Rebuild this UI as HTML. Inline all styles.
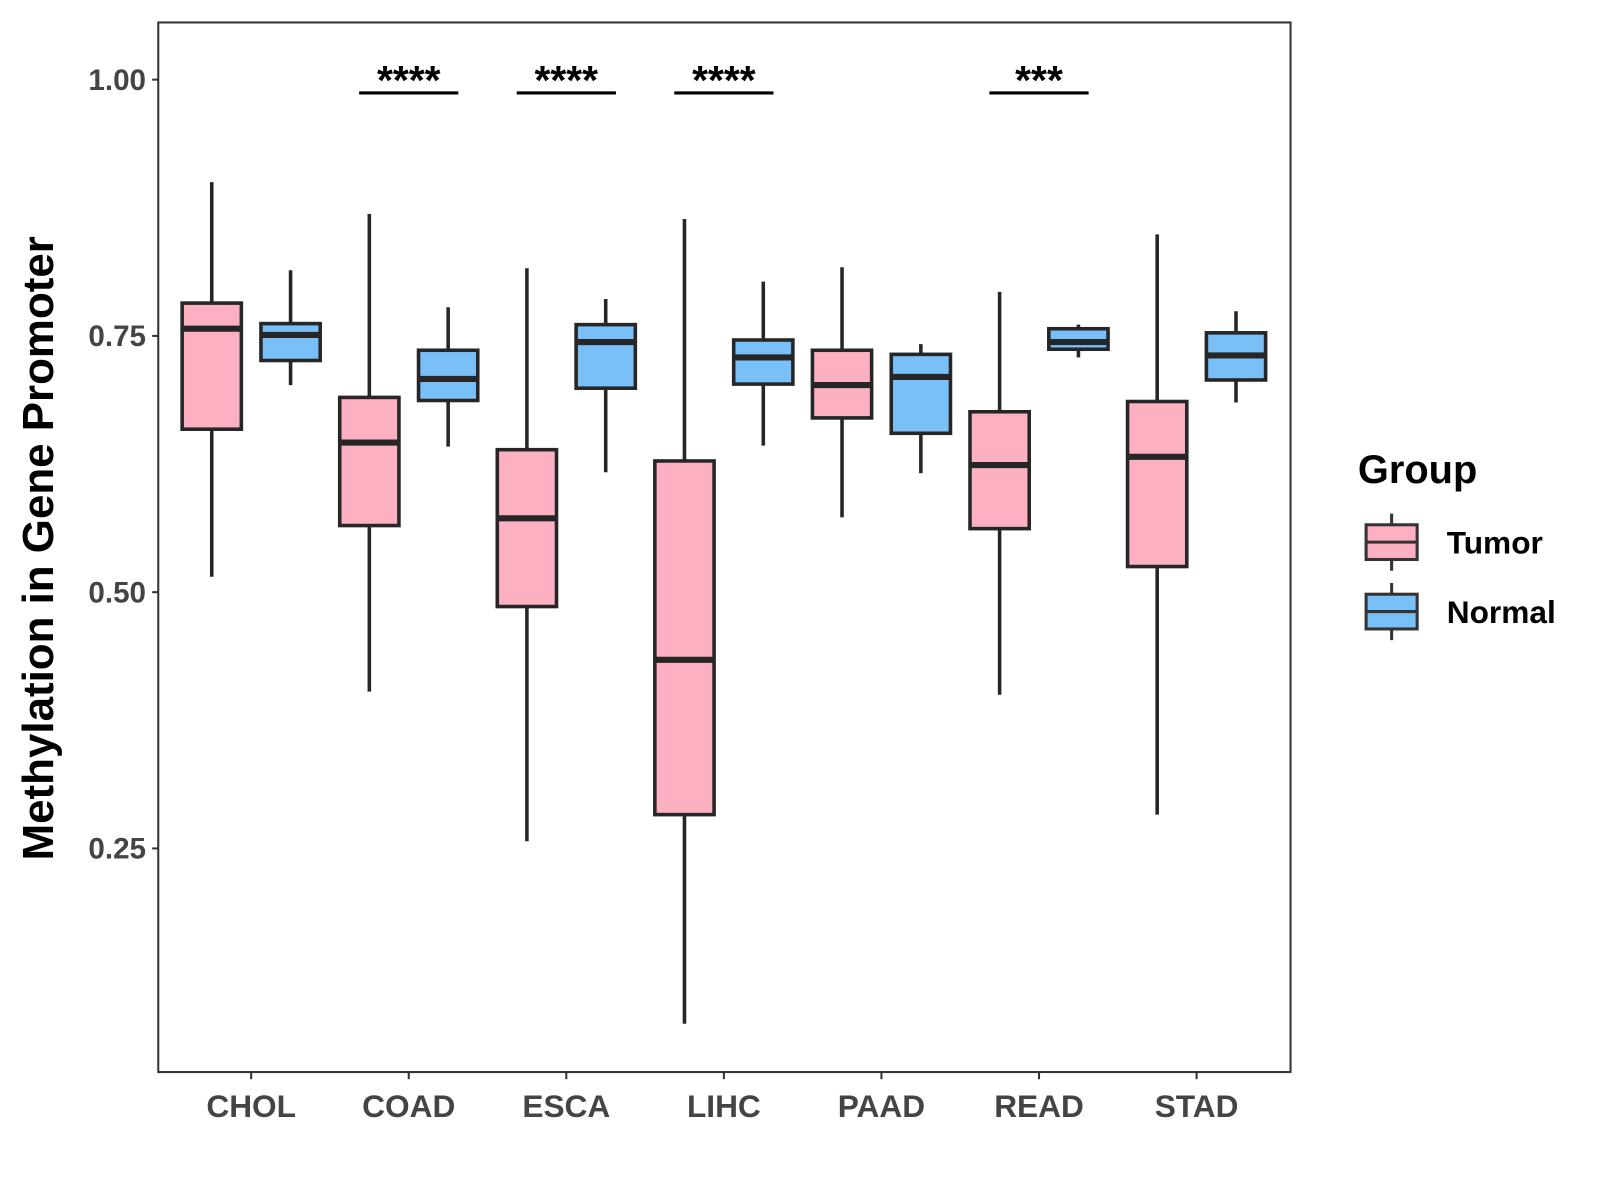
<!DOCTYPE html>
<html><head><meta charset="utf-8"><style>body{margin:0;background:#fff}svg{display:block}</style></head>
<body>
<svg id="chart" width="1600" height="1200" xmlns="http://www.w3.org/2000/svg" font-family="Liberation Sans, Arial, sans-serif">
<g transform="scale(1.021)">
<rect x="155" y="22" width="1109" height="1028" fill="none" stroke="#333" stroke-width="2"/>
<g id="marks"></g>
<text transform="translate(52,537) rotate(-90)" text-anchor="middle" font-size="43" font-weight="bold">Methylation in Gene Promoter</text>
<text x="1330" y="473" font-size="39" font-weight="bold">Group</text>
<g>
<line x1="1363" y1="503" x2="1363" y2="559" stroke="#333" stroke-width="3"/>
<rect x="1338" y="514" width="50" height="34" fill="#FDB0C1" stroke="#333" stroke-width="3"/>
<line x1="1338" y1="531" x2="1388" y2="531" stroke="#333" stroke-width="3"/>
<text x="1417" y="542" font-size="31" font-weight="bold">Tumor</text></g>
<g>
<line x1="1363" y1="571" x2="1363" y2="627" stroke="#333" stroke-width="3"/>
<rect x="1338" y="582" width="50" height="34" fill="#79C0F8" stroke="#333" stroke-width="3"/>
<line x1="1338" y1="599" x2="1388" y2="599" stroke="#333" stroke-width="3"/>
<text x="1417" y="610" font-size="31" font-weight="bold">Normal</text></g>
</g>
</svg>
<script>
const categories=["CHOL","COAD","ESCA","LIHC","PAAD","READ","STAD"];
// [max, q3, median, q1, min]
const tumorStats=[[0.900,0.782,0.757,0.659,0.515],[0.869,0.690,0.646,0.565,0.403],[0.816,0.639,0.572,0.486,0.257],[0.864,0.628,0.434,0.283,0.079],[0.817,0.736,0.702,0.670,0.573],[0.793,0.676,0.624,0.562,0.400],[0.849,0.686,0.632,0.525,0.283]];
const normalStats=[[0.814,0.762,0.751,0.726,0.702],[0.778,0.736,0.708,0.687,0.642],[0.786,0.761,0.744,0.699,0.617],[0.803,0.746,0.729,0.703,0.643],[0.742,0.732,0.710,0.655,0.616],[0.761,0.757,0.744,0.737,0.729],[0.774,0.753,0.731,0.707,0.685]];
const yTicks=[0.25,0.50,0.75,1.00];
const yTickLabels=["0.25","0.50","0.75","1.00"];
const sigLabels=["","****","****","****","","***",""];
const sigLevel=0.987;

const NS="http://www.w3.org/2000/svg";
const g=document.getElementById('marks');
const y=v=>78+(1-v)*1004;
const x=i=>246+i*154.33;
function el(t,a){const e=document.createElementNS(NS,t);for(const k in a)e.setAttribute(k,a[k]);g.appendChild(e);return e;}
yTicks.forEach((t,i)=>{
 const l=el('line',{x1:149,x2:155,y1:y(t),y2:y(t),stroke:'#333','stroke-width':2});
 
 
 const tx=el('text',{x:143,y:y(t)+10,'text-anchor':'end','font-size':29,'font-weight':'bold',fill:'#444'});
 tx.textContent=yTickLabels[i];
 
 
});
categories.forEach((c,i)=>{
 const l=el('line',{x1:x(i),x2:x(i),y1:1050,y2:1057,stroke:'#333','stroke-width':2});
 
 
 const tx=el('text',{x:x(i),y:1094,'text-anchor':'middle','font-size':31,'font-weight':'bold',fill:'#444'});
 tx.textContent=c;
 
 
 [[tumorStats[i],-38.6,'#FDB0C1','tumor'],[normalStats[i],38.6,'#79C0F8','normal']].forEach(([s,off,col,nm])=>{
  const cx=x(i)+off,w=58;
  const wk=el('line',{x1:cx,x2:cx,y1:y(s[0]),y2:y(s[4]),stroke:'#262626','stroke-width':3.5});
  
  
  const r=el('rect',{x:cx-w/2,y:y(s[1]),width:w,height:y(s[3])-y(s[1]),fill:col,stroke:'#262626','stroke-width':3.5});
  
  
  const m=el('line',{x1:cx-w/2,x2:cx+w/2,y1:y(s[2]),y2:y(s[2]),stroke:'#262626','stroke-width':6});
  
  
 });
 if(sigLabels[i]){
  const b=el('line',{x1:x(i)-48.6,x2:x(i)+48.6,y1:y(sigLevel),y2:y(sigLevel),stroke:'#000','stroke-width':3});
  
  
  const t=el('text',{x:x(i),y:y(sigLevel)+1,'text-anchor':'middle','font-size':40,'font-weight':'bold'});
  t.textContent=sigLabels[i];
  
  
 }
});
</script>
</body></html>
